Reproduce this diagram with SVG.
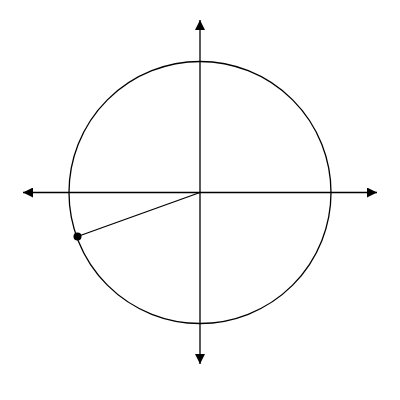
<svg xmlns="http://www.w3.org/2000/svg" width="400" height="400" viewBox="0 0 400 400">
<defs>
<marker id="arr" viewBox="0 0 10 10" refX="10" refY="5" markerWidth="10" markerHeight="10" markerUnits="userSpaceOnUse" orient="auto">
<path d="M0,0 L10,5 L0,10 Z" fill="#000"/>
</marker>
</defs>
<style>
.ax{stroke:#000;stroke-width:1.3;fill:none}
</style>
<rect width="400" height="400" fill="#fff"/>
<g id="circle"><circle cx="200" cy="192.5" r="131" fill="none" stroke="#000" stroke-width="1.3"/></g>
<g id="connectors">
<line class="ax" x1="200" y1="192.5" x2="23" y2="192.5" marker-end="url(#arr)"/>
<line class="ax" x1="200" y1="192.5" x2="377" y2="192.5" marker-end="url(#arr)"/>
<line class="ax" x1="200" y1="192.5" x2="200" y2="20" marker-end="url(#arr)"/>
<line class="ax" x1="200" y1="192.5" x2="200" y2="364" marker-end="url(#arr)"/>
<line class="ax" x1="200" y1="192.5" x2="77.5" y2="236.5"/>
</g>
<g id="point"><circle cx="77.5" cy="236.5" r="4" fill="#000"/></g>
</svg>
